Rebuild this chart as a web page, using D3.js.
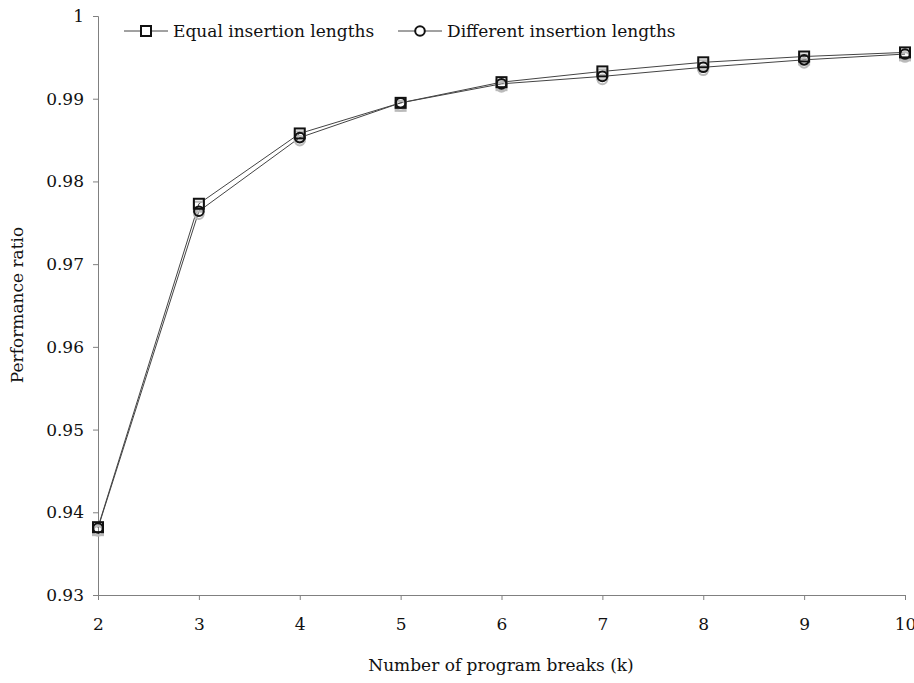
<!DOCTYPE html>
<html>
<head>
<meta charset="utf-8">
<script src="https://cdn.jsdelivr.net/npm/d3@7"></script>
<style>
  body { margin: 0; background: #fff; }
  svg { font-family: "DejaVu Serif", serif; }
</style>
</head>
<body>
<div id="chart"></div>
<script>
// chart data
const breaks = [2, 3, 4, 5, 6, 7, 8, 9, 10];
const equalLengths = [0.9382, 0.9773, 0.9858, 0.9895, 0.9920, 0.9933, 0.9944, 0.9951, 0.9956];
const differentLengths = [0.9381, 0.9764, 0.9853, 0.9895, 0.9918, 0.9927, 0.9938, 0.9947, 0.9954];
const yTicks = [0.93, 0.94, 0.95, 0.96, 0.97, 0.98, 0.99, 1];
const seriesNames = ["Equal insertion lengths", "Different insertion lengths"];

const width = 914, height = 683;
const margin = { top: 16, right: 9, bottom: 88, left: 98 };
const fontSize = 17;

const svg = d3.select("#chart").append("svg")
  .attr("width", width)
  .attr("height", height);

const x = d3.scaleLinear().domain([2, 10]).range([margin.left, width - margin.right]);
const y = d3.scaleLinear().domain([0.93, 1]).range([height - margin.bottom, margin.top]);

// y axis
const yAxis = svg.append("g")
  .attr("transform", `translate(${margin.left},0)`)
  .call(d3.axisLeft(y).tickValues(yTicks).tickFormat(d => d === 1 ? "1" : d3.format(".2f")(d)).tickSize(5).tickPadding(9));

// x axis
const xAxis = svg.append("g")
  .attr("transform", `translate(0,${height - margin.bottom})`)
  .call(d3.axisBottom(x).tickValues(breaks).tickFormat(d3.format("d")).tickSize(5).tickPadding(18));

[yAxis, xAxis].forEach(g => {
  g.select(".domain").attr("stroke", "#808080");
  g.selectAll(".tick line").attr("stroke", "#808080");
  g.selectAll(".tick text").attr("fill", "#111").attr("font-size", fontSize).attr("font-family", "DejaVu Serif");
});

// axis titles
svg.append("text")
  .attr("x", 501).attr("y", 671)
  .attr("text-anchor", "middle")
  .attr("font-size", fontSize)
  .attr("fill", "#111")
  .text("Number of program breaks (k)");

svg.append("text")
  .attr("transform", "translate(23,305) rotate(-90)")
  .attr("text-anchor", "middle")
  .attr("font-size", fontSize)
  .attr("fill", "#111")
  .text("Performance ratio");

// lines
const line = d3.line().x((d, i) => x(breaks[i])).y(d => y(d));
[equalLengths, differentLengths].forEach(vals => {
  svg.append("path")
    .datum(vals)
    .attr("fill", "none")
    .attr("stroke", "#444")
    .attr("stroke-width", 1)
    .attr("d", line);
});

// marker helpers
function square(g, cx, cy, color, fill) {
  g.append("rect")
    .attr("x", cx - 5).attr("y", cy - 5)
    .attr("width", 10).attr("height", 10)
    .attr("fill", fill).attr("stroke", color).attr("stroke-width", 2);
}
function circle(g, cx, cy, color, fill) {
  g.append("circle")
    .attr("cx", cx).attr("cy", cy).attr("r", 4.8)
    .attr("fill", fill).attr("stroke", color).attr("stroke-width", 2);
}

// shadows, then markers
const shadows = svg.append("g");
breaks.forEach((k, i) => {
  square(shadows, x(k), y(equalLengths[i]) + 3, "#bbb", "none");
  circle(shadows, x(k), y(differentLengths[i]) + 3, "#bbb", "none");
});
const marks = svg.append("g");
breaks.forEach((k, i) => {
  square(marks, x(k), y(equalLengths[i]), "#111", "none");
  circle(marks, x(k), y(differentLengths[i]), "#111", "none");
});

// legend
const legend = svg.append("g");
const legendItems = [
  { name: seriesNames[0], x0: 124, draw: square },
  { name: seriesNames[1], x0: 398, draw: circle }
];
legendItems.forEach(item => {
  legend.append("line")
    .attr("x1", item.x0).attr("x2", item.x0 + 44)
    .attr("y1", 31).attr("y2", 31)
    .attr("stroke", "#444");
  item.draw(legend, item.x0 + 22, 31, "#111", "#fff");
  legend.append("text")
    .attr("x", item.x0 + 49).attr("y", 37)
    .attr("font-size", fontSize)
    .attr("fill", "#111")
    .text(item.name);
});
</script>
</body>
</html>
